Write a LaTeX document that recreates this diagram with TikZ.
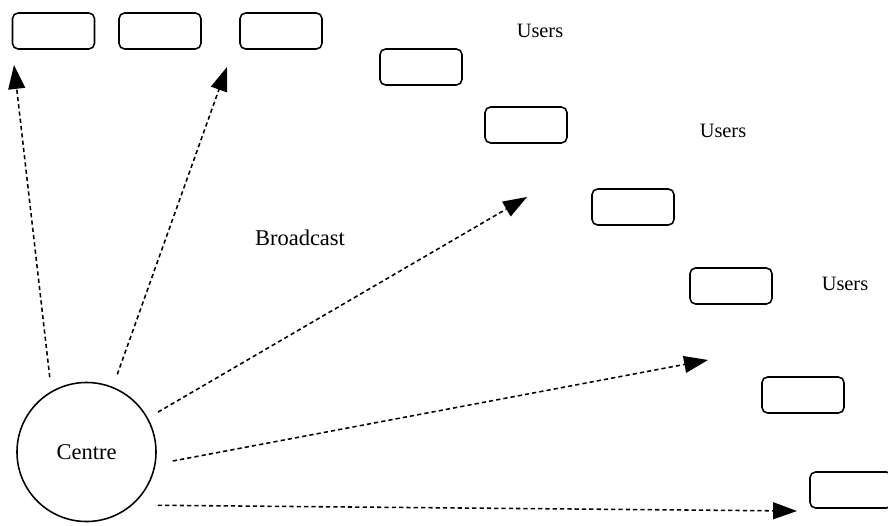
\documentclass[tikz,border=0pt]{standalone}
\usepackage{fontspec}
\setmainfont{Liberation Serif}
\usetikzlibrary{arrows.meta}

\begin{document}
\begin{tikzpicture}[x=0.025cm,y=-0.025cm,
    user/.style={draw,line width=1.1pt,rounded corners=4pt,minimum width=2.05cm,minimum height=0.9cm},
    bcast/.style={line width=1.1pt,dash pattern=on 3pt off 2.2pt,-{Triangle[length=17pt,width=12pt]}},
    lbl/.style={font=\fontsize{14.5}{17}\selectfont},
    biglbl/.style={font=\fontsize{16}{19}\selectfont}]

    \useasboundingbox (0,0) rectangle (888,526);

    %%%% Centre
    \node [draw,circle,line width=1.1pt,minimum size=3.475cm,inner sep=0pt,biglbl] (centre) at (86.5,452) {Centre};

    %%%%%%%%%%%%%%%%%%% Users %%%%%%%%%%%%%%%%%%%%%%%%%%%%%%%
    \node [user] (u1) at (53.5,31) {};
    \node [user] (u2) at (160,31) {};
    \node [user] (u3) at (281,31) {};
    \node [user] (u4) at (421,67) {};
    \node [user] (u5) at (526,125) {};
    \node [user] (u6) at (633,207) {};
    \node [user] (u7) at (731,286) {};
    \node [user] (u8) at (803,395) {};
    \node [user] (u9) at (851,490) {};

    \node [lbl] (users1) at (540,31) {Users};
    \node [lbl] (users2) at (723,131) {Users};
    \node [lbl] (users3) at (845,284) {Users};
    \node [biglbl] (bc) at (300,238) {Broadcast};

    %%%%%%%%%%%%%%%%%%% Broadcast arrows %%%%%%%%%%%%%%%%%%%%
    \coordinate (t1) at (14,65);
    \coordinate (t2) at (227,67);
    \coordinate (t3) at (527,197);
    \coordinate (t4) at (708,360);
    \coordinate (t5) at (797,511);

    \draw [bcast,shorten <=0.35cm] (centre.120.1) -- (t1);
    \draw [bcast,shorten <=0.33cm] (centre.68) -- (t2);
    \draw [bcast,shorten <=0.29cm] (centre.29.5) -- (t3);
    \draw [bcast,shorten <=0.435cm] (centre.-10.1) -- (t4);
    \draw [bcast,shorten <=0.63cm] (centre.-49.4) -- (t5);

\end{tikzpicture}
\end{document}
